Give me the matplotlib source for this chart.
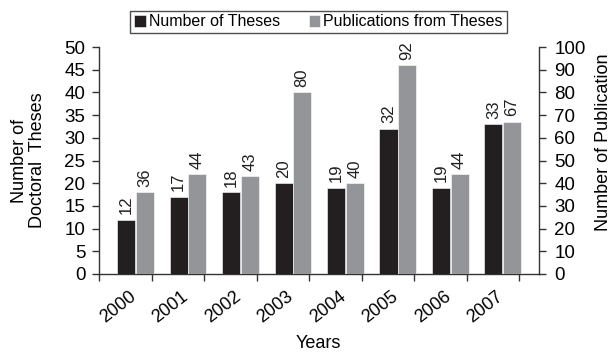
import matplotlib
matplotlib.use("Agg")
import matplotlib.pyplot as plt
import numpy as np

plt.rcParams['font.family'] = ['Liberation Sans', 'DejaVu Sans']

years = ["2000", "2001", "2002", "2003", "2004", "2005", "2006", "2007"]
theses = [12, 17, 18, 20, 19, 32, 19, 33]
publications = [36, 44, 43, 80, 40, 92, 44, 67]

dark = "#231f20"
grey = "#939598"

fig = plt.figure(figsize=(6.15, 3.56), dpi=100)
ax = fig.add_axes([99.3 / 615, 1 - 274 / 356, (539 - 99.3) / 615, (274 - 47) / 356])
ax2 = ax.twinx()

n = len(years)
idx = np.arange(n)
w = 0.345
x_th = idx + 0.512
x_pub = idx + 0.867

b1 = ax.bar(x_th, theses, width=w, color=dark, edgecolor="white", linewidth=0.4, zorder=3)
b2 = ax2.bar(x_pub, publications, width=w, color=grey, edgecolor="white", linewidth=0.4, zorder=3)

for rect, v in zip(b1, theses):
    ax.annotate(str(v), (rect.get_x() + rect.get_width() / 2, rect.get_height()),
                xytext=(0, 4.0), textcoords="offset points", rotation=90,
                ha="center", va="bottom", fontsize=12, color=dark)
for rect, v in zip(b2, publications):
    ax2.annotate(str(v), (rect.get_x() + rect.get_width() / 2, rect.get_height()),
                 xytext=(0, 4.0), textcoords="offset points", rotation=90,
                 ha="center", va="bottom", fontsize=12, color=dark)

xmax = 440 / 52.5
ax.set_xlim(0, xmax)
ax.set_ylim(0, 50)
ax2.set_ylim(0, 100)
ax.set_yticks(np.arange(0, 51, 5))
ax2.set_yticks(np.arange(0, 101, 10))

# category boundary ticks, labels placed under each bar pair
ax.set_xticks(np.arange(0, n + 1))
ax.set_xticklabels([])
ax.set_xticks(idx + 0.76, minor=True)
ax.set_xticklabels(years, minor=True, rotation=38, ha="right", va="top", fontsize=13)
ax.tick_params(axis="x", which="minor", length=0, pad=10)
ax.tick_params(axis="x", which="major", length=5, width=1, direction="out", color="#333333")

ax.tick_params(axis="y", length=5, width=1, direction="out", labelsize=13.5, pad=5, color="#333333")
ax2.tick_params(axis="y", length=5, width=1, direction="out", labelsize=13.5, pad=6, color="#333333")

for a in (ax, ax2):
    a.spines["top"].set_visible(False)
    for s in ("left", "right", "bottom"):
        a.spines[s].set_color("#333333")
        a.spines[s].set_linewidth(1)
ax.spines["right"].set_visible(False)
ax2.spines["left"].set_visible(False)
ax2.spines["bottom"].set_visible(False)

fig.text(28.5 / 615, 1 - 160.5 / 356, "Number of\nDoctoral  Theses", rotation=90,
         ha="center", va="center", multialignment="center", fontsize=13, linespacing=1.05)
fig.text(604 / 615, 1 - 142 / 356, "Number of Publication", rotation=90,
         ha="center", va="center", fontsize=13)
fig.text(318 / 615, 1 - 343 / 356, "Years", ha="center", va="center", fontsize=13)

leg = fig.legend([b1, b2], ["Number of Theses", "Publications from Theses"],
                 loc="center", bbox_to_anchor=(318.5 / 615, 1 - 22 / 356), ncol=2,
                 fontsize=11.5, frameon=True, fancybox=False, handlelength=0.7,
                 handleheight=0.7, handletextpad=0.2, columnspacing=1.8,
                 borderpad=0.25, borderaxespad=0)
leg.get_frame().set_edgecolor("#222222")
leg.get_frame().set_linewidth(1)

fig.savefig("out.png", dpi=100)
